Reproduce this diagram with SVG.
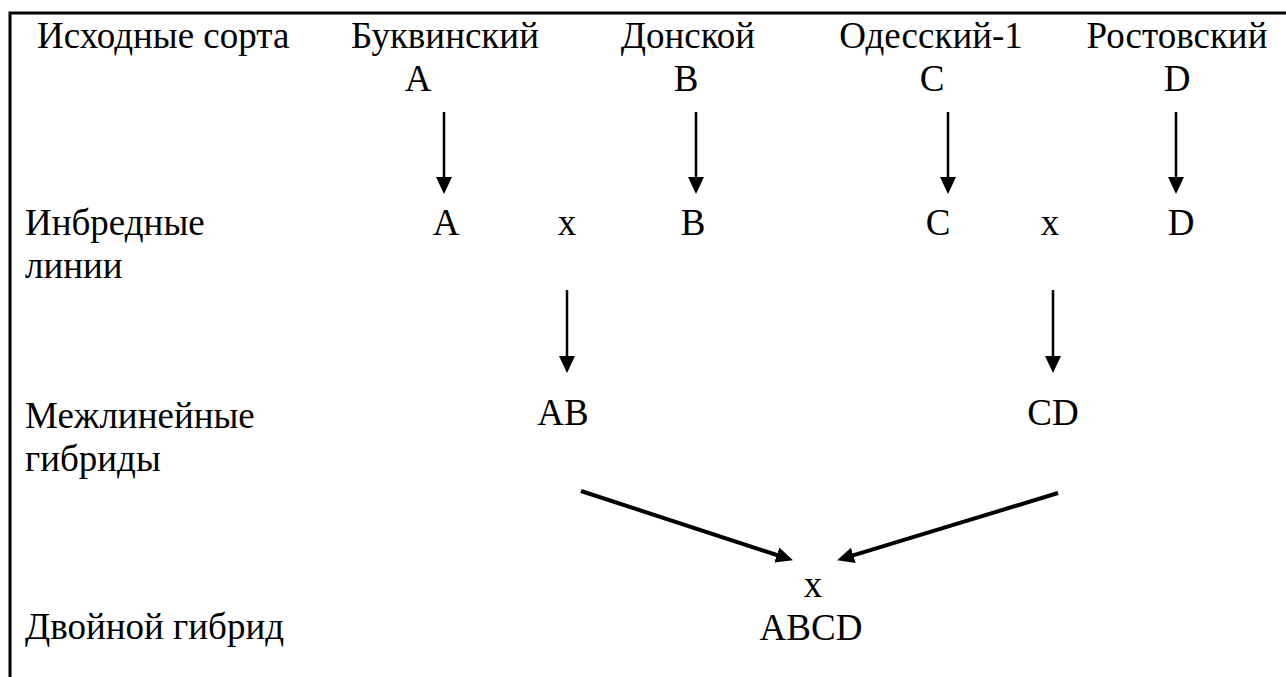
<svg xmlns="http://www.w3.org/2000/svg" width="1286" height="677" viewBox="0 0 1286 677">
  <style>
    text { font-family: 'Liberation Serif', 'Times New Roman', Tinos, 'DejaVu Serif', serif; font-size: 37px; fill: #000; }
    .c { text-anchor: middle; }
    .frame { stroke: #000; stroke-width: 3; fill: none; }
    .arr { stroke: #000; stroke-width: 2.5; fill: none; marker-end: url(#head); }
    .arr-d { stroke: #000; stroke-width: 4; fill: none; marker-end: url(#head); }
  </style>
  <defs>
    <marker id="head" markerUnits="userSpaceOnUse" markerWidth="17" markerHeight="16" refX="8" refY="8" orient="auto">
      <path d="M0,0 L17,8 L0,16 z" fill="#000"/>
    </marker>
  </defs>
  <rect width="1286" height="677" fill="#fff"/>

  <!-- open frame: top and left rules only -->
  <path class="frame" d="M10,677 L10,13 L1286,13"/>

  <g font-family="Liberation Serif, serif">
  <!-- row labels -->
  <g id="label-source">
    <text x="37" y="48">Исходные сорта</text>
  </g>
  <g id="label-inbred">
    <text x="25" y="235">Инбредные</text>
    <text x="25" y="278">линии</text>
  </g>
  <g id="label-interline">
    <text x="25" y="428">Межлинейные</text>
    <text x="25" y="471">гибриды</text>
  </g>
  <g id="label-double">
    <text x="25" y="639">Двойной гибрид</text>
  </g>

  <!-- source varieties -->
  <g id="variety-a">
    <text x="445" y="48" class="c">Буквинский</text>
    <text x="418" y="91" class="c">A</text>
  </g>
  <g id="variety-b">
    <text x="688" y="48" class="c">Донской</text>
    <text x="686" y="91" class="c">B</text>
  </g>
  <g id="variety-c">
    <text x="931" y="48" class="c">Одесский-1</text>
    <text x="932" y="91" class="c">C</text>
  </g>
  <g id="variety-d">
    <text x="1177" y="48" class="c">Ростовский</text>
    <text x="1177" y="91" class="c">D</text>
  </g>

  <!-- inbred lines -->
  <g id="line-a"><text x="446" y="235" class="c">A</text></g>
  <g id="cross-ab"><text x="567" y="235" class="c">x</text></g>
  <g id="line-b"><text x="693" y="235" class="c">B</text></g>
  <g id="line-c"><text x="938" y="235" class="c">C</text></g>
  <g id="cross-cd"><text x="1050" y="235" class="c">x</text></g>
  <g id="line-d"><text x="1181" y="235" class="c">D</text></g>

  <!-- single crosses -->
  <g id="hybrid-ab"><text x="563" y="425" class="c">AB</text></g>
  <g id="hybrid-cd"><text x="1053" y="425" class="c">CD</text></g>

  <!-- double cross -->
  <g id="hybrid-abcd">
    <text x="813" y="597" class="c">x</text>
    <text x="811" y="640" class="c">ABCD</text>
  </g>
  </g>

  <!-- connectors -->
  <g id="connectors">
    <line class="arr" x1="444" y1="112" x2="444" y2="185"/>
    <line class="arr" x1="696" y1="112" x2="696" y2="185"/>
    <line class="arr" x1="948" y1="112" x2="948" y2="185"/>
    <line class="arr" x1="1176" y1="112" x2="1176" y2="185"/>
    <line class="arr" x1="567" y1="290" x2="567" y2="364"/>
    <line class="arr" x1="1053" y1="290" x2="1053" y2="364"/>
    <line class="arr-d" x1="581" y1="491" x2="784.4" y2="557.5"/>
    <line class="arr-d" x1="1058" y1="493" x2="845.7" y2="557.7"/>
  </g>
</svg>
